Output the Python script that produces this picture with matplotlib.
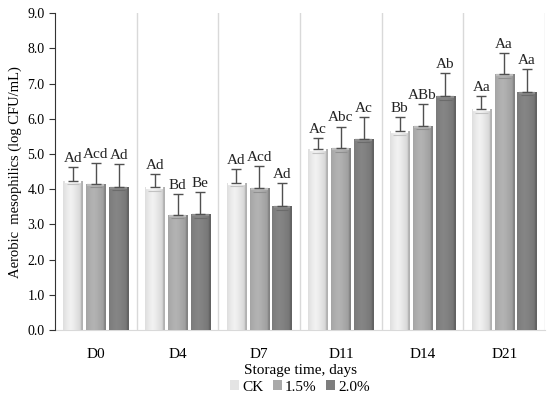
import numpy as np
import matplotlib.pyplot as plt
from matplotlib.colors import to_rgb

plt.rcParams['font.family'] = ['Liberation Serif', 'DejaVu Serif']

days = ["D0", "D4", "D7", "D11", "D14", "D21"]
groups = ["CK", "1.5%", "2.0%"]
ck = [4.24, 4.06, 4.18, 5.13, 5.64, 6.27]
p15 = [4.15, 3.27, 4.03, 5.16, 5.80, 7.27]
p20 = [4.07, 3.29, 3.52, 5.43, 6.64, 6.77]
ck_err = [0.38, 0.37, 0.39, 0.33, 0.40, 0.38]
p15_err = [0.60, 0.60, 0.62, 0.62, 0.62, 0.60]
p20_err = [0.65, 0.64, 0.65, 0.62, 0.66, 0.65]
ck_lab = ["Ad", "Ad", "Ad", "Ac", "Bb", "Aa"]
p15_lab = ["Acd", "Bd", "Acd", "Abc", "ABb", "Aa"]
p20_lab = ["Ad", "Be", "Ad", "Ac", "Ab", "Aa"]

values = [ck, p15, p20]
errors = [ck_err, p15_err, p20_err]
letters = [ck_lab, p15_lab, p20_lab]
colors = ["#e4e4e4", "#a9a9a9", "#7e7e7e"]

fig = plt.figure(figsize=(5.5, 3.99), dpi=100)
ax = fig.add_axes([0.1, 0.173, 0.891, 0.794])

x = np.arange(len(days))
w = 0.235
step = 0.28

# horizontal shading profile for the bars
prof = np.linspace(0, 1, 64)
shade = 1.0 - 0.28 * np.abs(prof - 0.38) ** 1.3 - 0.12 * (prof > 0.9)

for i in range(3):
    pos = x + (i - 1) * step
    bars = ax.bar(pos, values[i], w, color=colors[i], edgecolor="none",
                  label=groups[i], zorder=2)
    base = np.array(to_rgb(colors[i]))
    for b in bars:
        img = np.clip(base[None, None, :] * shade[None, :, None] * 1.06, 0, 1)
        x0, h = b.get_x(), b.get_height()
        im = ax.imshow(img, extent=[x0, x0 + w, 0, h], aspect="auto",
                       zorder=2.5, interpolation="bilinear")
        im.set_clip_path(b)
        # bevel at the top
        ax.plot([x0 + 0.015, x0 + w - 0.015], [h - 0.03, h - 0.03],
                color=np.clip(base * 1.12, 0, 1), lw=1.6, zorder=2.6,
                solid_capstyle="butt")
        ax.plot([x0 + 0.04, x0 + w - 0.04], [h - 0.1, h - 0.1],
                color=base * 0.85, lw=0.8, zorder=2.6, solid_capstyle="butt")
    ax.errorbar(pos, values[i], yerr=[np.zeros(6), errors[i]], fmt="none",
                ecolor="#505050", elinewidth=1.0, capsize=3.3, capthick=1.0,
                zorder=3)
    for xp, v, e, t in zip(pos, values[i], errors[i], letters[i]):
        ax.text(xp, v + e + 0.06, t, ha="center", va="bottom", fontsize=11,
                color="#222222", zorder=4)

ax.set_xlim(-0.5, 5.5)
ax.set_ylim(0, 9)
ax.set_yticks(np.arange(0, 9.1, 1.0))
ax.set_yticklabels([f"{v:.1f}" for v in np.arange(0, 9.1, 1.0)], fontsize=10)
ax.set_xticks(x)
ax.set_xticklabels(days, fontsize=11)
ax.tick_params(axis="x", length=0, pad=13)
ax.tick_params(axis="y", direction="out", length=4, color="#333333")
ax.set_xticks(np.arange(0.5, 5.6, 1), minor=True)
ax.tick_params(axis="x", which="minor", length=0)
ax.grid(axis="x", which="minor", color="#d9d9d9", lw=1.0, zorder=0)

for s in ["top", "right"]:
    ax.spines[s].set_visible(False)
ax.spines["left"].set_color("#333333")
ax.spines["bottom"].set_color("#d9d9d9")
ax.spines["bottom"].set_zorder(1)

ax.set_ylabel("Aerobic  mesophilics (log CFU/mL)", fontsize=10.5, labelpad=4)
ax.set_xlabel("Storage time, days", fontsize=11, labelpad=2)

leg = ax.legend(loc="upper center", bbox_to_anchor=(0.5, -0.125), ncol=3,
                frameon=False, fontsize=11, handlelength=0.6,
                handleheight=0.6, handletextpad=0.2, columnspacing=0.6,
                borderpad=0.2)

fig.savefig("out.png", dpi=100)
